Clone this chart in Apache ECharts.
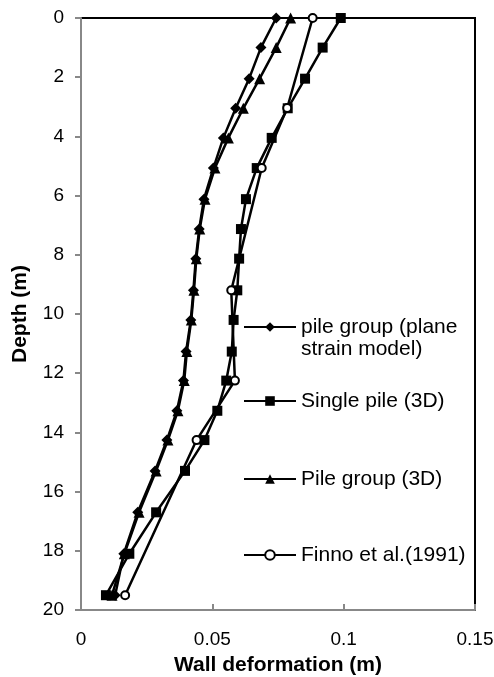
<!DOCTYPE html>
<html><head><meta charset="utf-8">
<script src="https://cdn.jsdelivr.net/npm/echarts@6/dist/echarts.min.js"></script>
<style>html,body{margin:0;padding:0;background:#fff}#c{width:494px;height:677px}</style>
</head><body><div id="c"></div>
<script>
const seriesNames = ['pile group (plane strain model)', 'Single pile (3D)', 'Pile group (3D)', 'Finno et al.(1991)'];
const modelDepth = [0, 1.0, 2.05, 3.05, 4.05, 5.07, 6.12, 7.13, 8.13, 9.2, 10.2, 11.27, 12.25, 13.27, 14.26, 15.3, 16.7, 18.1, 19.5];
const planeStrain = [0.0743, 0.0685, 0.0640, 0.0589, 0.0542, 0.0504, 0.0468, 0.0450, 0.0437, 0.0428, 0.0418, 0.0400, 0.0390, 0.0365, 0.0327, 0.0282, 0.0216, 0.0163, 0.0130];
const singlePile = [0.0989, 0.0920, 0.0853, 0.0787, 0.0726, 0.0669, 0.0628, 0.0609, 0.0602, 0.0595, 0.0581, 0.0574, 0.0553, 0.0519, 0.0470, 0.0396, 0.0286, 0.0184, 0.0095];
const pileGroup = [0.0798, 0.0743, 0.0680, 0.0618, 0.0561, 0.0510, 0.0472, 0.0452, 0.0439, 0.0430, 0.0420, 0.0403, 0.0393, 0.0369, 0.0331, 0.0286, 0.0221, 0.0165, 0.0118];
const finnoDepth = [0, 3.04, 5.07, 9.2, 12.25, 14.26, 19.5];
const finno = [0.0882, 0.0785, 0.0688, 0.0572, 0.0586, 0.0440, 0.0168];
const xTicks = [0, 0.05, 0.1, 0.15];
const yTicks = [0, 2, 4, 6, 8, 10, 12, 14, 16, 18, 20];

const FONT = '"Liberation Sans", Arial, sans-serif';
const pair = (xs, ds) => xs.map((v, i) => [v, ds[i]]);

const chart = echarts.init(document.getElementById('c'), null, {renderer: 'canvas'});

function mkSeries(name, data, symbol, size, hollow) {
  return {
    name, type: 'line', data, symbol, symbolSize: size, clip: false,
    lineStyle: {color: '#000', width: 2.5},
    itemStyle: {color: hollow ? '#fff' : '#000', borderColor: '#000', borderWidth: hollow ? 2 : 0},
    emphasis: {disabled: true}, animation: false
  };
}

function mkLegend(name, top, extra) {
  return Object.assign({
    data: [name], left: 243, top, padding: 0,
    itemWidth: 52, itemHeight: 12, itemGap: 0,
    textStyle: {fontFamily: FONT, fontSize: 21, color: '#000', lineHeight: 22},
    selectedMode: false
  }, extra || {});
}

chart.setOption({
  backgroundColor: '#fff',
  animation: false,
  grid: {left: 81, right: 19, top: 18, bottom: 67, outerBoundsMode: 'none', containLabel: false, show: true, borderColor: '#000', borderWidth: 2, backgroundColor: 'transparent'},
  xAxis: {
    type: 'value', min: xTicks[0], max: xTicks[xTicks.length - 1], interval: 0.05,
    name: 'Wall deformation (m)', nameLocation: 'middle', nameGap: 45,
    nameTextStyle: {fontFamily: FONT, fontSize: 21, fontWeight: 'bold', color: '#000'},
    axisLine: {show: true, onZero: false, lineStyle: {color: '#888', width: 2}},
    axisTick: {show: true, inside: true, length: 6, lineStyle: {color: '#888', width: 2}},
    axisLabel: {fontFamily: FONT, fontSize: 19, color: '#000', margin: 20, formatter: v => String(v)},
    splitLine: {show: false}
  },
  yAxis: {
    type: 'value', inverse: true, min: yTicks[0], max: yTicks[yTicks.length - 1], interval: 2,
    name: 'Depth (m)', nameLocation: 'middle', nameGap: 50,
    nameTextStyle: {fontFamily: FONT, fontSize: 21, fontWeight: 'bold', color: '#000'},
    axisLine: {show: true, onZero: false, lineStyle: {color: '#888', width: 2}},
    axisTick: {show: true, inside: false, length: 6, lineStyle: {color: '#888', width: 2}},
    axisLabel: {fontFamily: FONT, fontSize: 19, color: '#000', margin: 17},
    splitLine: {show: false}
  },
  legend: [
    mkLegend(seriesNames[0], 294, {formatter: () => '\npile group (plane\nstrain model)'}),
    mkLegend(seriesNames[1], 390),
    mkLegend(seriesNames[2], 468),
    mkLegend(seriesNames[3], 544)
  ],
  series: [
    mkSeries(seriesNames[0], pair(planeStrain, modelDepth), 'diamond', 11, false),
    mkSeries(seriesNames[1], pair(singlePile, modelDepth), 'rect', 10, false),
    mkSeries(seriesNames[2], pair(pileGroup, modelDepth), 'triangle', 11, false),
    mkSeries(seriesNames[3], pair(finno, finnoDepth), 'circle', 8, true)
  ]
});
</script></body></html>
